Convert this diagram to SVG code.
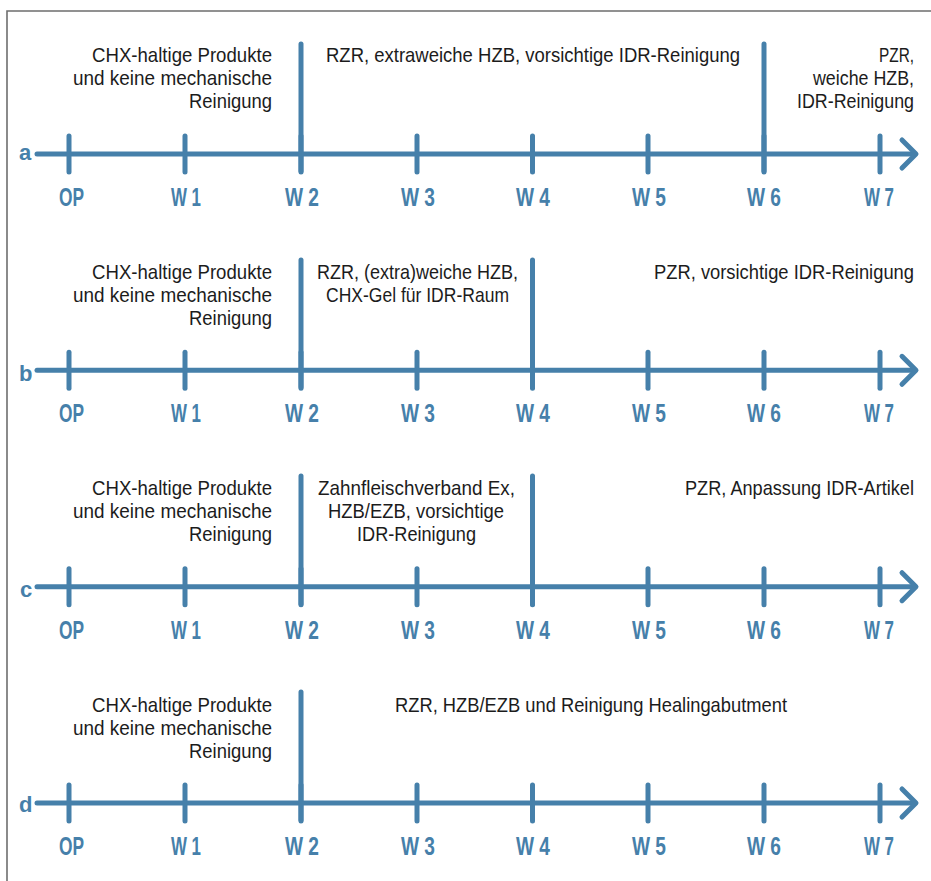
<svg xmlns="http://www.w3.org/2000/svg" width="931" height="881" viewBox="0 0 931 881">
<style>
.ax{stroke:#4680aa;stroke-width:5;stroke-linecap:round;stroke-linejoin:round;fill:none}
.t{font-family:"Liberation Sans",Arial,sans-serif;font-size:21px;fill:#1c1c1c}
.r{text-anchor:end}
.w{font-family:"Liberation Sans",Arial,sans-serif;font-size:25px;font-weight:bold;fill:#4680aa}
.l{font-family:"Liberation Sans",Arial,sans-serif;font-size:22px;font-weight:bold;fill:#4680aa}
</style>
<defs>
<g id="axis">
<line class="ax" x1="37" y1="0" x2="915" y2="0"/>
<polyline class="ax" points="902,-14 916,0 902,14"/>
<line class="ax" x1="69" y1="-18" x2="69" y2="18"/>
<line class="ax" x1="185" y1="-18" x2="185" y2="18"/>
<line class="ax" x1="301" y1="-18" x2="301" y2="18"/>
<line class="ax" x1="417" y1="-18" x2="417" y2="18"/>
<line class="ax" x1="532.5" y1="-18" x2="532.5" y2="18"/>
<line class="ax" x1="648" y1="-18" x2="648" y2="18"/>
<line class="ax" x1="764" y1="-18" x2="764" y2="18"/>
<line class="ax" x1="880" y1="-18" x2="880" y2="18"/>
<text class="w" x="59" y="52" textLength="25" lengthAdjust="spacingAndGlyphs">OP</text>
<text class="w" x="171" y="52" textLength="30" lengthAdjust="spacingAndGlyphs">W 1</text>
<text class="w" x="285" y="52" textLength="34" lengthAdjust="spacingAndGlyphs">W 2</text>
<text class="w" x="401" y="52" textLength="34" lengthAdjust="spacingAndGlyphs">W 3</text>
<text class="w" x="516" y="52" textLength="34" lengthAdjust="spacingAndGlyphs">W 4</text>
<text class="w" x="632" y="52" textLength="34" lengthAdjust="spacingAndGlyphs">W 5</text>
<text class="w" x="747" y="52" textLength="34" lengthAdjust="spacingAndGlyphs">W 6</text>
<text class="w" x="864" y="52" textLength="30" lengthAdjust="spacingAndGlyphs">W 7</text>
</g>
<g id="chx">
<text class="t r" x="272" y="0" textLength="180" lengthAdjust="spacingAndGlyphs">CHX-haltige Produkte</text>
<text class="t r" x="272" y="23" textLength="199" lengthAdjust="spacingAndGlyphs">und keine mechanische</text>
<text class="t r" x="272" y="46" textLength="83" lengthAdjust="spacingAndGlyphs">Reinigung</text>
</g>
</defs>
<path d="M7,881 V11 H931" fill="none" stroke="#6e6e6e" stroke-width="1.6"/>

<g id="connectors">
<use href="#axis" y="154"/>
<use href="#axis" y="370.3"/>
<use href="#axis" y="586.7"/>
<use href="#axis" y="803"/>
<line class="ax" x1="301" y1="44" x2="301" y2="171"/>
<line class="ax" x1="764" y1="44" x2="764" y2="171"/>
<line class="ax" x1="301" y1="260" x2="301" y2="387"/>
<line class="ax" x1="532.5" y1="260" x2="532.5" y2="387"/>
<line class="ax" x1="301" y1="476" x2="301" y2="604"/>
<line class="ax" x1="532.5" y1="476" x2="532.5" y2="604"/>
<line class="ax" x1="301" y1="692" x2="301" y2="820"/>
</g>

<g id="timeline-a">
<text class="l" x="19" y="160">a</text>
<use href="#chx" y="62"/>
<text class="t" x="326" y="62" textLength="414" lengthAdjust="spacingAndGlyphs">RZR, extraweiche HZB, vorsichtige IDR-Reinigung</text>
<text class="t r" x="914" y="62" textLength="35" lengthAdjust="spacingAndGlyphs">PZR,</text>
<text class="t r" x="914" y="85" textLength="101" lengthAdjust="spacingAndGlyphs">weiche HZB,</text>
<text class="t r" x="914" y="108" textLength="117" lengthAdjust="spacingAndGlyphs">IDR-Reinigung</text>
</g>

<g id="timeline-b">
<text class="l" x="19" y="381">b</text>
<use href="#chx" y="278.5"/>
<text class="t" x="317" y="278.5" textLength="201" lengthAdjust="spacingAndGlyphs">RZR, (extra)weiche HZB,</text>
<text class="t" x="326" y="301.5" textLength="183" lengthAdjust="spacingAndGlyphs">CHX-Gel für IDR-Raum</text>
<text class="t r" x="914" y="278.5" textLength="260" lengthAdjust="spacingAndGlyphs">PZR, vorsichtige IDR-Reinigung</text>
</g>

<g id="timeline-c">
<text class="l" x="20" y="597">c</text>
<use href="#chx" y="495"/>
<text class="t" x="318" y="495" textLength="197" lengthAdjust="spacingAndGlyphs">Zahnfleischverband Ex,</text>
<text class="t" x="328" y="518" textLength="176" lengthAdjust="spacingAndGlyphs">HZB/EZB, vorsichtige</text>
<text class="t" x="357" y="541" textLength="119" lengthAdjust="spacingAndGlyphs">IDR-Reinigung</text>
<text class="t r" x="914" y="495" textLength="229" lengthAdjust="spacingAndGlyphs">PZR, Anpassung IDR-Artikel</text>
</g>

<g id="timeline-d">
<text class="l" x="19" y="812">d</text>
<use href="#chx" y="711.5"/>
<text class="t" x="395" y="711.5" textLength="392" lengthAdjust="spacingAndGlyphs">RZR, HZB/EZB und Reinigung Healingabutment</text>
</g>
</svg>
